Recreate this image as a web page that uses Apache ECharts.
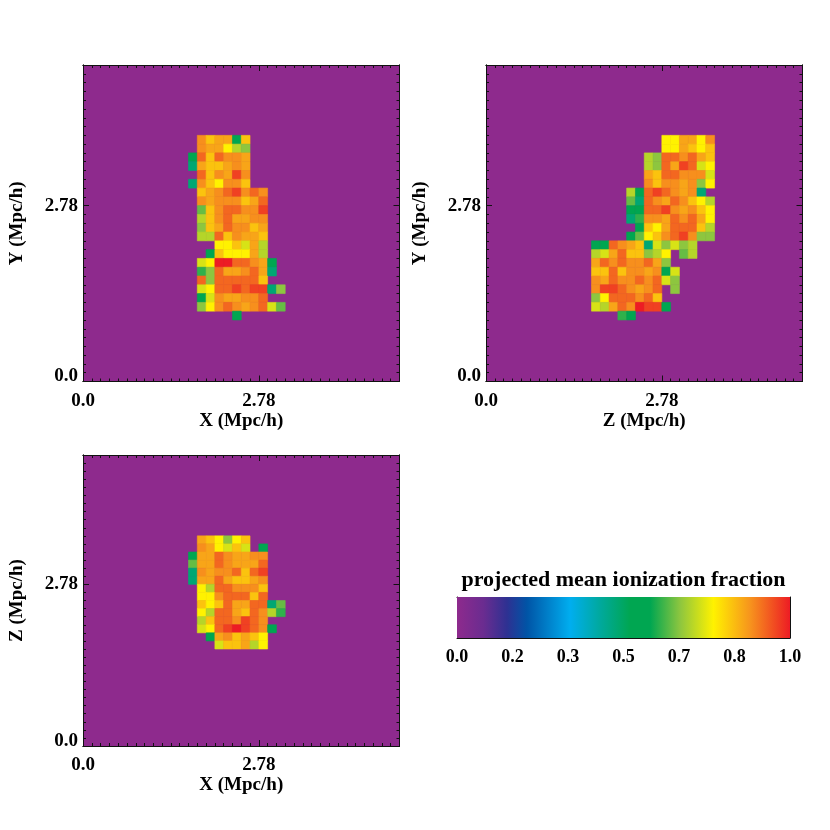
<!DOCTYPE html>
<html>
<head>
<meta charset="utf-8">
<title>projected mean ionization fraction</title>
<script src="https://cdn.jsdelivr.net/npm/echarts@6/dist/echarts.min.js"></script>
<style>html,body{margin:0;background:#fff;}</style>
</head>
<body>
<div id="main" style="width:830px;height:830px;"></div>
<script>
// grid: 36 cells of 0.139 Mpc/h per side
const CELL = 0.139;
const NCELL = 36;
const BOX = 5.004;

const AXIS_TICKS = [0, 2.78];
const AXIS_TICK_LABELS = ['0.0', '2.78'];
const CBAR_LABELS = ['0.0', '0.2', '0.3', '0.5', '0.7', '0.8', '1.0'];

// colour table (value -> colour)
const CMAP_POS = [0, 0.08, 0.15, 0.21, 0.34, 0.43, 0.52, 0.58, 0.67, 0.77, 0.88, 1.0];
const CMAP_COL = ['#8E2A8D', '#6A2C90', '#2E3192', '#0054A6', '#00AEEF', '#00A99D',
                  '#00A651', '#00A651', '#8DC63F', '#FFF200', '#F7941D', '#ED1C24'];

// one letter per cell, '.' = neutral (0.0)
const LEVEL_CODES = 'GgmhlvwydaokrR';
const LEVEL_VALUES = [0.48, 0.55, 0.61, 0.645, 0.67, 0.705, 0.735, 0.77, 0.825, 0.86, 0.885, 0.925, 0.963, 1.0];

// X-Y projection, rows from the top starting at row 8, columns from 12
const XY_ROW0 = 8, XY_COL0 = 12;
const XY_CELLS = [
  '.odaagd....',
  '.oaayvl....',
  'gkdkooa....',
  'Gaddaoa....',
  '.kdoaro....',
  'Godyood....',
  '.daokroko..',
  '.oaooodak..',
  '.hdokkoor..',
  '.vdokaaoo..',
  '.ldakooda..',
  '.vvkdoaad..',
  '...yydwav..',
  '..gdyyyav..',
  '.wyRRkkoag.',
  '.mlkaaokaG.',
  '.klkkkkkd..',
  '.wykkrkrrGl',
  '.gwoaaook..',
  '.lyokoaokwh',
  '.....g.....'
];

// Z-Y projection
const ZY_ROW0 = 8, ZY_COL0 = 12;
const ZY_CELLS = [
  '........yyaayo',
  '........yyadyd',
  '......vlkkokad',
  '......vlkarkwy',
  '......adkkooow',
  '......odooaoly',
  '....vgkrkoaoG.',
  '....hGkoakodyv',
  '....ggkkroaody',
  '....Gmooakokay',
  '.....gdyakkkdv',
  '....ghydokroll',
  'ggkoadGwlwlv..',
  'vwakddlvy.hv..',
  'akokookal.....',
  'ddkdooaogw....',
  'oakookokwl....',
  'orrkoaok.l....',
  'lykkkokd......',
  'wvakoRrrg.....',
  '...mg.........'
];

// X-Z projection
const XZ_ROW0 = 10, XZ_COL0 = 12;
const XZ_CELLS = [
  '.adylyd....',
  '.oaywdw.g..',
  'gaakoaaoo..',
  'haakoaaak..',
  'Goaookdkr..',
  'Gaakaddao..',
  '.yvkkoood..',
  '.yyokkkdk..',
  '.dydkaakkGh',
  '.yvkkadkovm',
  '.vdkkorko..',
  '.wykrRrkog.',
  '..gaodady..',
  '...wddavy..'
];

const CBAR_RANGE = [0, 1];

const SERIF = '"Liberation Serif", "DejaVu Serif", serif';

function hex2rgb(h) {
  return [parseInt(h.slice(1, 3), 16), parseInt(h.slice(3, 5), 16), parseInt(h.slice(5, 7), 16)];
}
function cmap(v) {
  v = Math.max(0, Math.min(1, v));
  let i = 1;
  while (i < CMAP_POS.length - 1 && v > CMAP_POS[i]) i++;
  const t = (v - CMAP_POS[i - 1]) / (CMAP_POS[i] - CMAP_POS[i - 1]);
  const a = hex2rgb(CMAP_COL[i - 1]), b = hex2rgb(CMAP_COL[i]);
  const c = a.map((x, k) => Math.round(x + (b[k] - x) * t));
  return 'rgb(' + c.join(',') + ')';
}
const BG = cmap(0);

function toData(rows, row0, col0) {
  const out = [];
  rows.forEach(function (line, j) {
    for (let i = 0; i < line.length; i++) {
      const k = LEVEL_CODES.indexOf(line[i]);
      if (k < 0) continue;
      out.push([(col0 + i) * CELL, (NCELL - 1 - row0 - j) * CELL, LEVEL_VALUES[k]]);
    }
  });
  return out;
}

function cellItem(params, api) {
  const x = api.value(0), y = api.value(1);
  const a = api.coord([x, y + CELL]);
  const b = api.coord([x + CELL, y]);
  const c = cmap(api.value(2));
  return {
    type: 'rect',
    shape: { x: a[0], y: a[1], width: b[0] - a[0], height: b[1] - a[1] },
    style: { fill: c, stroke: c, lineWidth: 0.6 }
  };
}

function tickLabel(v) {
  for (let i = 0; i < AXIS_TICKS.length; i++) {
    if (Math.abs(v - AXIS_TICKS[i]) < 1e-6) return AXIS_TICK_LABELS[i];
  }
  return '';
}
function yTickLabel(v) {
  const s = tickLabel(v);
  if (Math.abs(v) < 1e-6) return '{lo|' + s + '}';
  return s;
}

const font = { fontFamily: SERIF, fontWeight: 'bold', fontSize: 19, color: '#000' };
const frameLine = { show: true, onZero: false, lineStyle: { color: '#111', width: 1 } };

function panelAxes(grid, xName, yName) {
  function major(pos, labelled, name, isY) {
    return {
      gridIndex: grid, type: 'value', position: pos, min: 0, max: BOX, interval: 2.78,
      axisLine: frameLine,
      axisTick: { show: true, inside: true, length: 6, lineStyle: { color: '#111', width: 1 } },
      axisLabel: Object.assign({
        show: labelled, margin: isY ? 5 : 10,
        formatter: isY ? yTickLabel : tickLabel,
        rich: { lo: Object.assign({ padding: [0, 0, 10, 0] }, font) }
      }, font),
      splitLine: { show: false },
      name: labelled ? name : '',
      nameLocation: 'middle',
      nameGap: isY ? 56 : 30,
      nameTextStyle: font
    };
  }
  function minor(pos) {
    return {
      gridIndex: grid, type: 'value', position: pos, min: 0, max: BOX, interval: CELL,
      axisLine: frameLine,
      axisTick: { show: true, inside: true, length: 3, lineStyle: { color: '#111', width: 1 } },
      axisLabel: { show: false },
      splitLine: { show: false }
    };
  }
  return {
    x: [major('bottom', true, xName, false), minor('bottom'), major('top', false, '', false), minor('top')],
    y: [major('left', true, yName, true), minor('left'), major('right', false, '', true), minor('right')]
  };
}

const p0 = panelAxes(0, 'X (Mpc/h)', 'Y (Mpc/h)');
const p1 = panelAxes(1, 'Z (Mpc/h)', 'Y (Mpc/h)');
const p2 = panelAxes(2, 'X (Mpc/h)', 'Z (Mpc/h)');

const cbFont = { fontFamily: SERIF, fontWeight: 'bold', fontSize: 18, color: '#000' };
function cbarAxis(pos, labelled) {
  return {
    gridIndex: 3, type: 'value', position: pos, min: 0, max: 1, interval: 1 / 12,
    axisLine: frameLine,
    axisTick: { show: true, inside: true, length: 4, lineStyle: { color: '#111', width: 1 } },
    axisLabel: Object.assign({
      show: labelled, margin: 10,
      formatter: function (v) {
        const k = Math.round(v * 12);
        return k % 2 === 0 ? CBAR_LABELS[k / 2] : '';
      }
    }, cbFont),
    splitLine: { show: false },
    name: pos === 'top' ? 'projected mean ionization fraction' : '',
    nameLocation: 'middle',
    nameGap: 6,
    nameTextStyle: { fontFamily: SERIF, fontWeight: 'bold', fontSize: 22, color: '#000' }
  };
}
function cbarYAxis(pos) {
  return {
    gridIndex: 3, type: 'value', position: pos, min: 0, max: 1,
    axisLine: frameLine, axisTick: { show: false }, axisLabel: { show: false },
    splitLine: { show: false }
  };
}

const panelGrid = { show: true, backgroundColor: BG, borderWidth: 0, containLabel: false, outerBoundsMode: 'none' };

const cbarStops = CMAP_POS.map(function (p, i) { return { offset: p, color: CMAP_COL[i] }; });

const chart = echarts.init(document.getElementById('main'), null, { renderer: 'canvas' });
chart.setOption({
  backgroundColor: '#fff',
  animation: false,
  grid: [
    Object.assign({ left: 83, top: 65, width: 316.5, height: 316.5 }, panelGrid),
    Object.assign({ left: 486, top: 65, width: 316.5, height: 316.5 }, panelGrid),
    Object.assign({ left: 83, top: 455, width: 316.5, height: 291 }, panelGrid),
    { left: 457, top: 597, width: 333, height: 41, containLabel: false, outerBoundsMode: 'none' }
  ],
  xAxis: p0.x.concat(p1.x, p2.x, [cbarAxis('bottom', true), cbarAxis('top', false)]),
  yAxis: p0.y.concat(p1.y, p2.y, [cbarYAxis('left'), cbarYAxis('right')]),
  series: [
    { type: 'custom', xAxisIndex: 0, yAxisIndex: 0, silent: true, renderItem: cellItem,
      data: toData(XY_CELLS, XY_ROW0, XY_COL0) },
    { type: 'custom', xAxisIndex: 4, yAxisIndex: 4, silent: true, renderItem: cellItem,
      data: toData(ZY_CELLS, ZY_ROW0, ZY_COL0) },
    { type: 'custom', xAxisIndex: 8, yAxisIndex: 8, silent: true, renderItem: cellItem,
      data: toData(XZ_CELLS, XZ_ROW0, XZ_COL0) },
    { type: 'custom', xAxisIndex: 12, yAxisIndex: 12, silent: true,
      data: [[CBAR_RANGE[0], CBAR_RANGE[0], CBAR_RANGE[1], CBAR_RANGE[1]]],
      encode: { x: [0, 2], y: [1, 3] },
      renderItem: function (params, api) {
        const a = api.coord([api.value(0), api.value(3)]);
        const b = api.coord([api.value(2), api.value(1)]);
        return {
          type: 'rect',
          shape: { x: a[0], y: a[1], width: b[0] - a[0], height: b[1] - a[1] },
          style: { fill: { type: 'linear', x: 0, y: 0, x2: 1, y2: 0, colorStops: cbarStops } }
        };
      } }
  ]
});
</script>
</body>
</html>
